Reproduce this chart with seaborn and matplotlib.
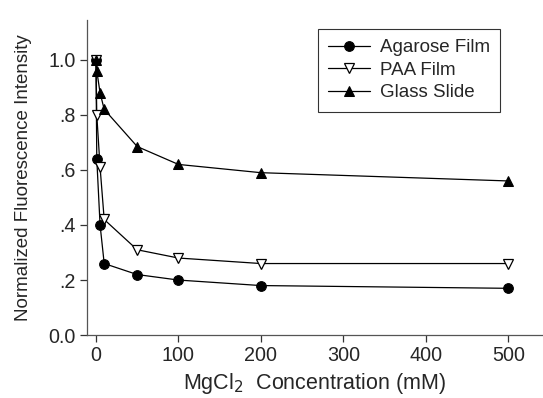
import matplotlib
matplotlib.use("Agg")
import matplotlib.pyplot as plt
import seaborn as sns
import pandas as pd

sns.set_theme(style="ticks")
plt.rcParams['font.family'] = ['Liberation Sans', 'DejaVu Sans']

conc = [0, 1, 5, 10, 50, 100, 200, 500]
agarose = [1.00, 0.64, 0.40, 0.26, 0.22, 0.20, 0.18, 0.17]
paa = [1.00, 0.80, 0.61, 0.42, 0.31, 0.28, 0.26, 0.26]
glass = [1.00, 0.96, 0.88, 0.82, 0.685, 0.62, 0.59, 0.56]
series_names = ["Agarose Film", "PAA Film", "Glass Slide"]
y_ticks = [0.0, 0.2, 0.4, 0.6, 0.8, 1.0]
y_ticklabels = ["0.0", ".2", ".4", ".6", ".8", "1.0"]
x_ticks = [0, 100, 200, 300, 400, 500]

df = pd.DataFrame({
    "conc": conc * 3,
    "val": agarose + paa + glass,
    "series": [series_names[0]] * len(conc) + [series_names[1]] * len(conc) + [series_names[2]] * len(conc),
})

fig = plt.figure(figsize=(5.43, 3.98), dpi=100)
ax = fig.add_axes([0.160, 0.158, 0.840, 0.792])

styles = {
    "Agarose Film": dict(marker="o", mfc="black", mec="black", ms=7),
    "PAA Film": dict(marker="v", mfc="white", mec="black", ms=7.5, mew=0.9),
    "Glass Slide": dict(marker="^", mfc="black", mec="black", ms=7),
}
for name in series_names:
    sub = df[df["series"] == name]
    sns.lineplot(data=sub, x="conc", y="val", ax=ax, color="black", lw=0.9,
                 label=name, **styles[name])

FS = 13.5
ax.set_xlim(-11, 542)
ax.set_ylim(0, 1.145)
ax.set_xticks(x_ticks)
ax.set_yticks(y_ticks)
ax.set_yticklabels(y_ticklabels)
ax.tick_params(axis="both", labelsize=14.2, length=5, width=0.9, color="#333333", pad=3, direction="out")
for s in ["top", "right"]:
    ax.spines[s].set_visible(False)
for s in ["left", "bottom"]:
    ax.spines[s].set_color("#555555")
    ax.spines[s].set_linewidth(0.9)

ax.set_xlabel(r"MgCl$_2$  Concentration (mM)", fontsize=15.5, labelpad=4)
ax.set_ylabel("Normalized Fluorescence Intensity", fontsize=FS, labelpad=12)

leg = ax.legend(loc="upper left", bbox_to_anchor=(0.507, 0.971), frameon=True, fancybox=False,
                fontsize=FS, handlelength=2.2, handletextpad=0.55, borderpad=0.55,
                labelspacing=0.28, borderaxespad=0.0)
leg.get_frame().set_edgecolor("black")
leg.get_frame().set_linewidth(0.8)

fig.savefig("out.png", dpi=100)
